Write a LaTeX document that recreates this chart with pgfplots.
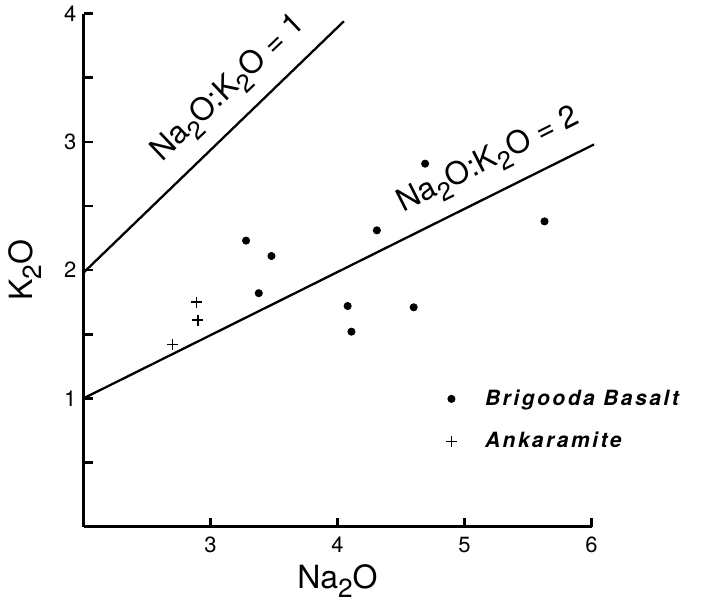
\documentclass[border=0pt]{standalone}
\usepackage{pgfplots}
\pgfplotsset{compat=1.18}
\usepackage{graphicx}
\usepackage{fontspec}
\setmainfont{TeX Gyre Heros}
\newfontfamily\legfont[LetterSpace=12]{TeX Gyre Heros}
\newcommand{\sub}[1]{\raisebox{-0.28em}{\scalebox{0.82}{#1}}}

\begin{document}
\begin{tikzpicture}
\path[use as bounding box] (-41.75pt,-37.7pt) rectangle (308.75pt,263.3pt);
\begin{axis}[
  at={(0,0)}, anchor=south west,
  scale only axis, width=254pt, height=256.5pt,
  xmin=2, xmax=6, ymin=0, ymax=4,
  axis x line*=bottom, axis y line*=left,
  axis line style={line width=1.4pt, -},
  tick align=inside,
  major tick length=4.5pt, minor tick length=4.5pt,
  every tick/.style={black, line width=1.3pt},
  xtick={3,4,5,6}, ytick={1,2,3,4}, minor ytick={0.5,1.5,2.5,3.5},
  tick label style={font=\fontsize{11}{13}\selectfont},
  /pgf/number format/assume math mode=true,
  xticklabel style={yshift=-1.7pt},
  xlabel={Na\sub{2}O}, ylabel={K\sub{2}O},
  xlabel style={at={([yshift=-31pt]rel axis cs:0.5,0)}, anchor=base, font=\fontsize{16}{18}\selectfont},
  ylabel style={at={([xshift=-25.7pt]rel axis cs:0,0.5)}, anchor=base, font=\fontsize{16}{18}\selectfont},
  clip=false,
  legend style={at={(axis cs:4.85,0.83)}, anchor=west, draw=none, fill=none, inner sep=0pt,
    font={\fontsize{10.5}{12}\legfont\bfseries\itshape}, row sep=8pt, column sep=12pt},
  legend cell align=left,
  legend image code/.code={\draw[#1] plot coordinates {(0pt,0pt)};},
]
\addplot[black, line width=1.15pt, forget plot] coordinates {(2,1.98) (4.05,3.94)};
\addplot[black, line width=1.15pt, forget plot] coordinates {(2,1.0) (6.02,2.98)};
\addplot[only marks, mark=*, mark size=1.8pt, black] coordinates {
(3.28,2.23) (3.48,2.11) (3.38,1.82) (4.31,2.31) (4.69,2.83)
(4.08,1.72) (4.11,1.52) (4.60,1.71) (5.63,2.38)};
\addlegendentry{Brigooda Basalt}
\addplot[only marks, mark=+, mark size=2.8pt, black, line width=0.85pt] coordinates {
(2.89,1.75) (2.90,1.61) (2.70,1.42)};
\addlegendentry{Ankaramite}
\node[rotate=43.5, anchor=base west, inner sep=0pt, font=\fontsize{15.5}{17}\selectfont] at (axis cs:2.62,2.84) {Na\sub{2}O:K\sub{2}O = 1};
\node[rotate=26.8, anchor=base west, inner sep=0pt, font=\fontsize{15.5}{17}\selectfont] at (axis cs:4.52,2.45) {Na\sub{2}O:K\sub{2}O = 2};
\end{axis}
\end{tikzpicture}
\end{document}
